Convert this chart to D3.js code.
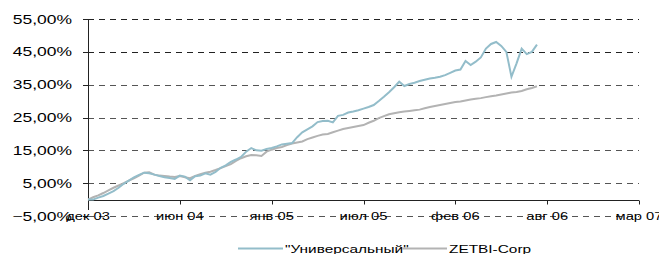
<!DOCTYPE html>
<html><head><meta charset="utf-8">
<script src="https://cdn.jsdelivr.net/npm/d3@7"></script>
<style>body{margin:0;background:#fff}svg{display:block}text{font-family:"Liberation Sans",Arial,sans-serif;fill:#000}</style>
</head><body><svg id="c" width="659" height="254"></svg>
<script>
const xLabels = ["дек 03","июн 04","янв 05","июл 05","фев 06","авг 06","мар 07"];
const yTicks = [-5,5,15,25,35,45,55];
const seriesNames = ["\"Универсальный\"","ZETBI-Corp"];
const universal = [0,0.0,0.6,1.1,1.8,2.6,3.6,4.8,5.8,6.8,7.5,8.2,8.0,7.6,7.2,6.8,6.6,6.3,7.3,7.0,5.9,7.1,7.3,8.0,7.6,8.4,9.7,10.4,11.5,12.2,13.0,14.6,15.7,15.0,14.9,15.4,15.7,16.2,16.8,17.0,17.2,19.0,20.5,21.4,22.3,23.6,23.9,24.0,23.5,25.5,25.8,26.5,26.8,27.2,27.7,28.2,28.8,30.0,31.3,32.7,34.2,35.9,34.6,35.2,35.6,36.1,36.5,36.9,37.1,37.4,37.9,38.6,39.3,39.6,42.2,41.0,42.0,43.3,46.0,47.4,48.0,46.8,45.0,37.4,41.5,46.0,44.3,45.0,47.2];
const zetbi = [0,0.7,1.3,2.0,2.8,3.6,4.3,5.0,5.8,6.5,7.3,8.2,8.3,7.6,7.3,7.2,7.0,6.9,7.2,6.8,6.5,7.2,7.7,8.2,8.5,9.0,9.6,10.2,10.8,11.8,12.6,13.2,13.6,13.5,13.3,14.6,15.2,15.7,16.0,16.6,17.1,17.4,17.7,18.4,18.9,19.4,19.8,20.0,20.5,21.0,21.5,21.8,22.1,22.4,22.7,23.4,24.0,24.8,25.4,26.0,26.3,26.6,26.8,27.0,27.2,27.4,27.8,28.2,28.5,28.8,29.1,29.4,29.7,29.9,30.2,30.5,30.7,30.9,31.2,31.5,31.7,32.0,32.3,32.6,32.8,33.1,33.6,34.0,34.5];
const pointsPerLabel = 18;
const totalSlots = pointsPerLabel*(xLabels.length-1);

const svg = d3.select("#c");
const x = d3.scaleLinear().domain([0,totalSlots]).range([88,639]);
const y = d3.scaleLinear().domain([-5,55]).range([216,19]);
const SX = 1.4;

// gridlines
svg.append("g").selectAll("line").data(yTicks).join("line")
  .attr("x1",88).attr("x2",639).attr("y1",d=>Math.round(y(d))+0.5).attr("y2",d=>Math.round(y(d))+0.5)
  .attr("stroke",d=>d>=45?"#222":"#555").attr("stroke-width",1).attr("stroke-dasharray","6,5");

// y axis
svg.append("line").attr("x1",88.5).attr("x2",88.5).attr("y1",y(55)).attr("y2",y(-5)-6).attr("stroke","#222");
svg.append("g").selectAll("line").data(yTicks).join("line")
  .attr("x1",83).attr("x2",88).attr("y1",d=>Math.round(y(d))+0.5).attr("y2",d=>Math.round(y(d))+0.5).attr("stroke","#222");
svg.append("g").selectAll("text").data(yTicks).join("text")
  .attr("transform",d=>`translate(72,${y(d)+4.5}) scale(${SX},1)`)
  .attr("text-anchor","end").style("font-size","12.5px")
  .text(d=>d3.format(".2f")(d).replace(".",",")+"%");

// x axis at zero
const y0 = Math.round(y(0))+0.5;
svg.append("line").attr("x1",88).attr("x2",639).attr("y1",y0).attr("y2",y0).attr("stroke","#222");
svg.append("g").selectAll("line").data(xLabels).join("line")
  .attr("x1",(d,i)=>Math.round(x(i*pointsPerLabel))+0.5).attr("x2",(d,i)=>Math.round(x(i*pointsPerLabel))+0.5)
  .attr("y1",y0).attr("y2",y0+4).attr("stroke","#222");
svg.append("g").selectAll("text").data(xLabels).join("text")
  .attr("transform",(d,i)=>`translate(${x(i*pointsPerLabel)},${y(-5)+4}) scale(${SX},1)`)
  .attr("text-anchor","middle").style("font-size","10.5px").text(d=>d);

// lines
const line = d3.line().x((d,i)=>x(i)).y(d=>y(d));
svg.append("path").datum(zetbi).attr("d",line).attr("fill","none").attr("stroke","#b3b3b3").attr("stroke-width",2);
svg.append("path").datum(universal).attr("d",line).attr("fill","none").attr("stroke","#93bdca").attr("stroke-width",2);

// legend
const leg = [{n:seriesNames[0],c:"#93bdca",x1:238,x2:283},{n:seriesNames[1],c:"#b3b3b3",x1:402,x2:447}];
leg.forEach(l=>{
  svg.append("line").attr("x1",l.x1).attr("x2",l.x2).attr("y1",248.5).attr("y2",248.5).attr("stroke",l.c).attr("stroke-width",2);
  svg.append("text").attr("transform",`translate(${l.x2+2},252.5) scale(${SX},1)`).style("font-size","11px").text(l.n);
});
</script></body></html>
